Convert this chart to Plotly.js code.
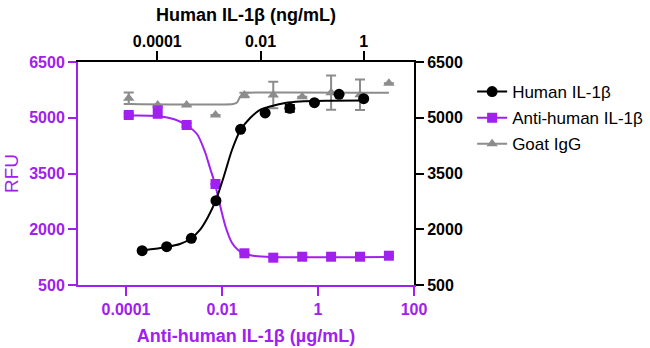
<!DOCTYPE html>
<html>
<head>
<meta charset="utf-8">
<script src="https://cdn.plot.ly/plotly-3.0.1.min.js"></script>
<style>html,body{margin:0;padding:0;background:#fff;}#chart{width:650px;height:348px;}</style>
</head>
<body>
<div id="chart"></div>
<script>
// ---- data ----
// Anti-human IL-1β (µg/mL), bottom axis / left axis
const antiX = [1.14e-4, 4.58e-4, 1.83e-3, 7.32e-3, 0.0293, 0.117, 0.469, 1.875, 7.5, 30];
const antiY = [5074, 5150, 4805, 3217, 1353, 1235, 1261, 1261, 1261, 1288];
const antiErr = [40, 150, 50, 0, 0, 0, 0, 0, 0, 0];
// Goat IgG, same concentrations
const goatX = [1.14e-4, 4.58e-4, 1.83e-3, 7.32e-3, 0.0293, 0.117, 0.469, 1.875, 7.5, 30];
const goatY = [5523, 5343, 5343, 5074, 5612, 5612, 5566, 5674, 5620, 5927];
const goatErr = [156, 0, 0, 0, 60, 358, 0, 460, 412, 0];
// Human IL-1β (ng/mL), top axis / right axis
const humanX = [5.08e-5, 1.52e-4, 4.57e-4, 1.37e-3, 4.12e-3, 0.0123, 0.037, 0.111, 0.333, 1];
const humanY = [1423, 1530, 1757, 2768, 4689, 5131, 5254, 5405, 5631, 5513];
const humanErr = [0, 0, 0, 0, 0, 0, 90, 0, 0, 0];

// fitted curves, points
const humanFitX = [5.08e-5, 1.52e-4, 2.75e-4, 4.5e-4, 6.7e-4, 9.6e-4, 1.36e-3, 1.96e-3, 2.8e-3, 4.1e-3, 6.3e-3, 9.8e-3, 0.0153, 0.030, 0.058, 0.222, 1];
const humanFitY = [1428, 1522, 1603, 1751, 1980, 2330, 2774, 3433, 4132, 4670, 4993, 5209, 5303, 5397, 5437, 5456, 5464];
const antiFitX = [1.14e-4, 4.43e-4, 1.05e-3, 1.78e-3, 3.01e-3, 4.43e-3, 5.62e-3, 7.15e-3, 9.08e-3, 0.0121, 0.0162, 0.0216, 0.0287, 0.0487, 0.110, 30];
const antiFitY = [5061, 5047, 4953, 4805, 4563, 4078, 3648, 3217, 2652, 2034, 1630, 1442, 1348, 1280, 1253, 1253];
const goatFitX = [1.14e-4, 0.01694, 0.02054, 0.0237, 0.0274, 0.0332, 30];
const goatFitY = [5370, 5370, 5410, 5558, 5653, 5672, 5674];

// axis ticks
const yTicks = [500, 2000, 3500, 5000, 6500];
const bottomTicks = [1e-4, 1e-2, 1, 100];
const bottomTickText = ['0.0001', '0.01', '1', '100'];
const topTicks = [1e-4, 1e-2, 1];
const topTickText = ['0.0001', '0.01', '1'];

const seriesNames = ['Human IL-1β', 'Anti-human IL-1β', 'Goat IgG'];

// ---- styling ----
const PURPLE = '#a020f0';
const GRAY = '#8c8c8c';
const FONT = 'Liberation Sans, Arial, sans-serif';

// interleave nulls so markers are not joined but legend shows line+marker
function gap(a) { const o = []; a.forEach((v, i) => { if (i) o.push(null); o.push(v); }); return o; }

const traces = [
  {x: humanFitX, y: humanFitY, xaxis: 'x2', yaxis: 'y2', mode: 'lines', line: {color: '#000', width: 2, shape: 'spline', smoothing: 0.8}, showlegend: false, hoverinfo: 'skip'},
  {x: antiFitX, y: antiFitY, mode: 'lines', line: {color: PURPLE, width: 2, shape: 'spline', smoothing: 0.8}, showlegend: false, hoverinfo: 'skip'},
  {x: goatFitX, y: goatFitY, mode: 'lines', line: {color: GRAY, width: 2, shape: 'spline', smoothing: 0.6}, showlegend: false, hoverinfo: 'skip'},
  {x: gap(goatX), y: gap(goatY), name: seriesNames[2], legendgroup: 'c', legendrank: 3, mode: 'lines+markers', connectgaps: false,
   line: {color: GRAY, width: 2}, marker: {symbol: 'triangle-up', size: 10, color: GRAY},
   error_y: {type: 'data', array: gap(goatErr), color: GRAY, thickness: 2, width: 5}},
  {x: gap(antiX), y: gap(antiY), name: seriesNames[1], legendgroup: 'b', legendrank: 2, mode: 'lines+markers', connectgaps: false,
   line: {color: PURPLE, width: 2}, marker: {symbol: 'square', size: 10, color: PURPLE},
   error_y: {type: 'data', array: gap(antiErr), color: PURPLE, thickness: 2, width: 5}},
  {x: gap(humanX), y: gap(humanY), name: seriesNames[0], legendgroup: 'a', legendrank: 1, xaxis: 'x2', yaxis: 'y2', mode: 'lines+markers', connectgaps: false,
   line: {color: '#000', width: 2}, marker: {symbol: 'circle', size: 11, color: '#000'},
   error_y: {type: 'data', array: gap(humanErr), color: '#000', thickness: 2, width: 5}}
];

const tickFontP = {family: FONT, size: 16, color: PURPLE, weight: 'bold'};
const tickFontK = {family: FONT, size: 16, color: '#000', weight: 'bold'};

const layout = {
  width: 650, height: 348,
  margin: {l: 78, r: 236, t: 62, b: 63, autoexpand: false},
  paper_bgcolor: '#fff', plot_bgcolor: '#fff',
  font: {family: FONT},
  showlegend: true,
  legend: {x: 1.173, xanchor: 'left', y: 0.946, yanchor: 'top', font: {family: FONT, size: 17, color: '#000'},
           traceorder: 'grouped', tracegroupgap: 1, bgcolor: 'rgba(0,0,0,0)'},
  xaxis: {type: 'log', range: [-5, 2], tickvals: bottomTicks, ticktext: bottomTickText, tickfont: tickFontP,
          ticks: 'outside', ticklen: 9, tickwidth: 2, tickcolor: PURPLE, showline: true, linecolor: PURPLE, linewidth: 2,
          showgrid: false, zeroline: false, automargin: false,
          title: {text: 'Anti-human IL-1β (µg/mL)', font: {family: FONT, size: 18, color: PURPLE, weight: 'bold'}, standoff: 12}},
  xaxis2: {type: 'log', overlaying: 'x', side: 'top', range: [-5.537, 0.975], tickvals: topTicks, ticktext: topTickText, tickfont: tickFontK,
           ticks: 'outside', ticklen: 9, tickwidth: 2, tickcolor: '#000', showline: true, linecolor: '#000', linewidth: 2,
           showgrid: false, zeroline: false, automargin: false, ticklabelstandoff: -2,
           title: {text: 'Human IL-1β (ng/mL)', font: {family: FONT, size: 18, color: '#000', weight: 'bold'}, standoff: 6}},
  yaxis: {range: [500, 6500], tickvals: yTicks, tickfont: tickFontP, ticks: 'outside', ticklen: 8, tickwidth: 2, tickcolor: PURPLE,
          showline: true, linecolor: PURPLE, linewidth: 2, showgrid: false, zeroline: false, automargin: false,
          title: {text: 'RFU', font: {family: FONT, size: 19, color: PURPLE}, standoff: 6}},
  yaxis2: {range: [500, 6500], overlaying: 'y', side: 'right', tickvals: yTicks, tickfont: tickFontK, ticks: 'outside', ticklen: 8, tickwidth: 2, tickcolor: '#000',
           showline: true, linecolor: '#000', linewidth: 2, showgrid: false, zeroline: false, automargin: false}
};

Plotly.newPlot('chart', traces, layout, {displayModeBar: false, staticPlot: true});
</script>
</body>
</html>
